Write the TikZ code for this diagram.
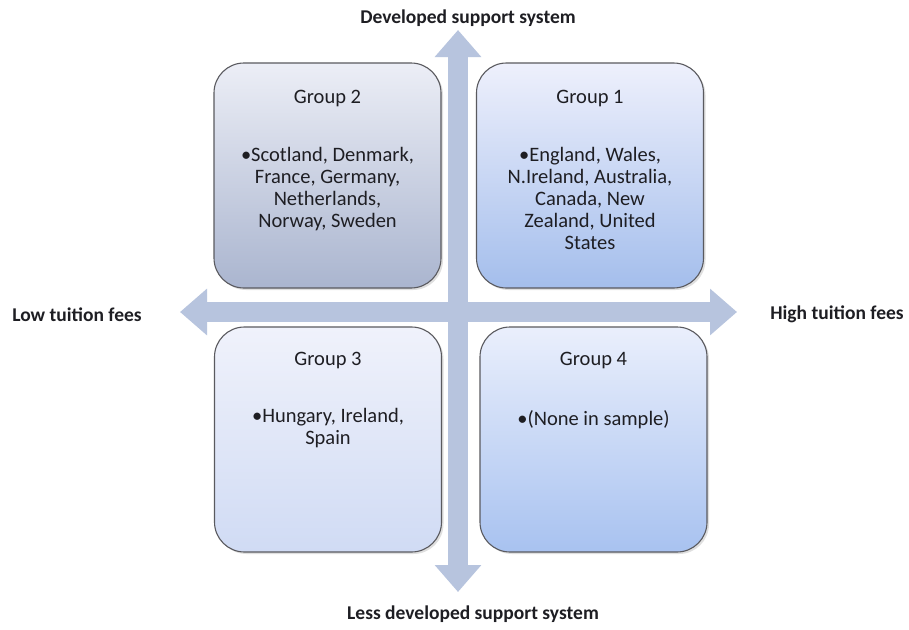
\documentclass[tikz,border=0pt]{standalone}
\usepackage{fontspec}
\setmainfont{Carlito}
\usetikzlibrary{arrows.meta,shadows,calc}
\definecolor{axiscol}{RGB}{183,196,222}
\definecolor{edgecol}{RGB}{90,90,95}
\definecolor{txtcol}{RGB}{30,30,35}
\tikzset{
  axisarrow/.style={line width=20pt, color=axiscol,
    {Triangle[length=27pt,width=45pt]}-{Triangle[length=27pt,width=45pt]}},
  groupbox/.style={draw=edgecol, line width=1.1pt, rounded corners=30pt,
    minimum width=227pt, minimum height=225pt, inner sep=0pt,
    drop shadow={opacity=0.25, shadow xshift=2pt, shadow yshift=-2pt}},
  grouptitle/.style={font=\fontsize{20.5pt}{22pt}\selectfont, text=txtcol, inner sep=0pt},
  groupbody/.style={font=\fontsize{20.5pt}{22pt}\selectfont, text=txtcol, align=center, inner sep=0pt, anchor=north},
  axislabel/.style={font=\bfseries\fontsize{19.5pt}{22pt}\selectfont, text=txtcol, inner sep=0pt}
}
\begin{document}
\begin{tikzpicture}[x=1pt,y=-1pt]
\useasboundingbox[fill=white] (0,0) rectangle (909,629);
% axis end points
\coordinate (vtop) at (458,30);
\coordinate (vbot) at (458,592);
\coordinate (hleft) at (180,312);
\coordinate (hright) at (737,312);
\draw[axisarrow] (vbot) -- (vtop);
\draw[axisarrow] (hleft) -- (hright);
% boxes
\node[groupbox, top color={rgb,255:red,236;green,238;blue,246}, bottom color={rgb,255:red,170;green,181;blue,207}] (g2) at (327.5,175.5) {};
\node[groupbox, top color={rgb,255:red,238;green,240;blue,252}, bottom color={rgb,255:red,164;green,190;blue,236}] (g1) at (590,175.5) {};
\node[groupbox, top color={rgb,255:red,240;green,242;blue,251}, bottom color={rgb,255:red,208;green,219;blue,244}] (g3) at (328,439.5) {};
\node[groupbox, top color={rgb,255:red,234;green,239;blue,252}, bottom color={rgb,255:red,168;green,194;blue,240}] (g4) at (593.5,439.5) {};
% titles
\node[grouptitle] (t2) at ($(g2.north)+(0,36)$) {Group 2};
\node[grouptitle] (t1) at ($(g1.north)+(0,36)$) {Group 1};
\node[grouptitle] (t3) at ($(g3.north)+(0,34)$) {Group 3};
\node[grouptitle] (t4) at ($(g4.north)+(0,34)$) {Group 4};
% bodies
\node[groupbody] (b2) at ($(g2.north)+(0,85)$) {•Scotland, Denmark,\\France, Germany,\\Netherlands,\\Norway, Sweden};
\node[groupbody] (b1) at ($(g1.north)+(0,85)$) {•England, Wales,\\N.Ireland, Australia,\\Canada, New\\Zealand, United\\States};
\node[groupbody] (b3) at ($(g3.north)+(0,82)$) {•Hungary, Ireland,\\Spain};
\node[groupbody] (b4) at ($(g4.north)+(0,84)$) {•(None in sample)};
% axis labels
\node[axislabel] (ldev) at (468,18) {Developed support system};
\node[axislabel] (lless) at (473,614) {Less developed support system};
\node[axislabel] (llow) at (77,315) {Low tuition fees};
\node[axislabel] (lhigh) at (837,314) {High tuition fees};
\end{tikzpicture}
\end{document}
